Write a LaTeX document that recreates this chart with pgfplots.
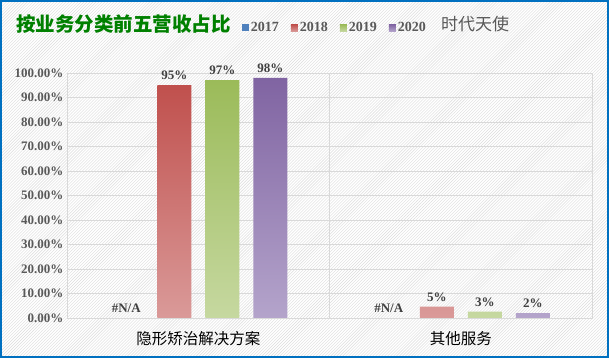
\documentclass[border=0pt]{standalone}
\usepackage{pgfplots}
\pgfplotsset{compat=1.18}
\usepackage{fontspec}
\setmainfont{Liberation Serif}
\newfontfamily\cjk{Noto Sans CJK SC}
\usetikzlibrary{patterns}
\definecolor{bordblue}{HTML}{0070C0}
\definecolor{titlegreen}{HTML}{008000}
\definecolor{txtgray}{HTML}{595959}
\definecolor{lblgray}{HTML}{404040}
\definecolor{gridgray}{HTML}{D9D9D9}
\definecolor{hatch}{HTML}{DCDCDC}
\definecolor{bT}{HTML}{4F81BD}\definecolor{bB}{HTML}{95B3D7}
\definecolor{rT}{HTML}{C0504D}\definecolor{rB}{HTML}{DA9A99}
\definecolor{gT}{HTML}{9BBB59}\definecolor{gB}{HTML}{C6D8A0}
\definecolor{pT}{HTML}{8064A2}\definecolor{pB}{HTML}{B4A4CB}
\begin{document}
\begin{tikzpicture}
\useasboundingbox (0,0) rectangle (609bp,358bp);
\fill[white] (0,0) rectangle (609bp,358bp);
\fill[pattern=north east lines, pattern color=hatch] (0,0) rectangle (609bp,358bp);
\draw[bordblue, line width=2bp] (1bp,1bp) rectangle (608bp,357bp);
\begin{axis}[
  at={(67bp,40bp)}, anchor=south west,
  scale only axis, width=525bp, height=245bp,
  xmin=-0.5, xmax=1.5, ymin=0, ymax=100,
  ybar=14bp, bar width=34bp,
  xtick={0,1},
  xticklabels={隐形矫治解决方案,其他服务},
  x tick label style={font=\cjk\fontsize{15.5bp}{18bp}\selectfont, text=black, yshift=-10bp},
  ytick={0,10,...,100},
  yticklabels={0.00\%,10.00\%,20.00\%,30.00\%,40.00\%,50.00\%,60.00\%,70.00\%,80.00\%,90.00\%,100.00\%},
  y tick label style={font=\bfseries\fontsize{13bp}{15bp}\selectfont, text=txtgray},
  /pgf/number format/assume math mode=true,
  major tick length=0pt,
  ymajorgrids, grid style={gridgray, line width=0.9bp},
  axis line style={gridgray, line width=0.9bp},
  extra x ticks={0.5}, extra x tick labels={},
  extra x tick style={xmajorgrids, grid style={gridgray, line width=0.9bp}},
  axis on top=false,
  nodes near coords={\pgfmathprintnumber[fixed,precision=0]{\pgfplotspointmeta}\%},
  every node near coord/.append style={font=\bfseries\fontsize{13bp}{15bp}\selectfont, text=lblgray, yshift=1.5bp},
  legend columns=4,
  legend style={at={(axis description cs:0.327,1.184)}, anchor=west, draw=none, fill=none,
    font=\bfseries\fontsize{14bp}{16bp}\selectfont, text=txtgray,
    /tikz/every even column/.append style={column sep=10bp}},
  legend image code/.code={\path[#1, draw=none] (0bp,-3.5bp) rectangle (7bp,3.5bp);},
]
\addplot[draw=none, fill=bT, nodes near coords={\#N/A}] coordinates {(0,0) (1,0)};
\addplot[draw=none, top color=rT, bottom color=rB] coordinates {(0,95.1) (1,4.6)};
\addplot[draw=none, top color=gT, bottom color=gB] coordinates {(0,97.1) (1,2.6)};
\addplot[draw=none, top color=pT, bottom color=pB] coordinates {(0,98.0) (1,2.0)};
\legend{2017,2018,2019,2020}
\end{axis}
\node[anchor=west, inner sep=0, text=titlegreen, font=\cjk\bfseries\fontsize{19.5bp}{22bp}\selectfont] at (16bp,334bp) {按业务分类前五营收占比};
\node[anchor=west, inner sep=0, text=txtgray, font=\cjk\fontsize{17bp}{20bp}\selectfont] at (441bp,334bp) {时代天使};
\end{tikzpicture}
\end{document}
